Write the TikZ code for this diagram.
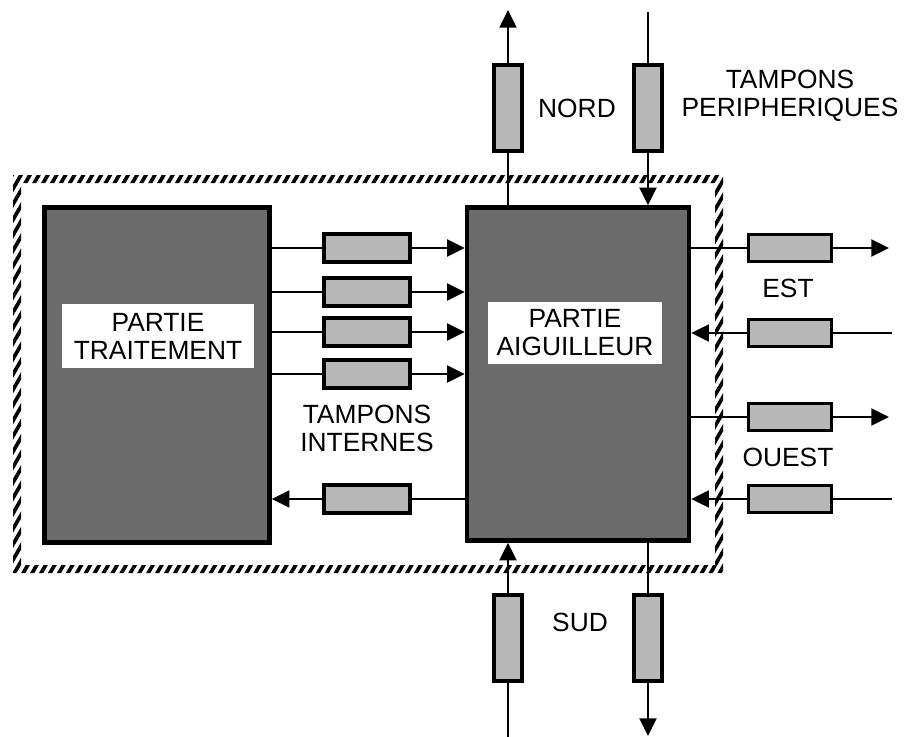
\documentclass[tikz,border=0pt]{standalone}
\usepackage{fontspec}
\setmainfont{Liberation Sans}
\usetikzlibrary{arrows.meta,patterns.meta}

\begin{document}
\begin{tikzpicture}[x=0.02cm, y=-0.02cm, >={Triangle[length=10pt,width=9.5pt]},
		font=\fontsize{15}{16}\selectfont,
		bloc/.style={draw, line width=2.6pt, fill=black!58, inner sep=0pt, minimum width=4.5cm, minimum height=6.7cm},
		etiq/.style={fill=white, align=center, inner sep=0pt},
		tamponh/.style={draw, line width=1.8pt, fill=black!28, inner sep=0pt, minimum width=1.72cm, minimum height=0.56cm},
		tamponv/.style={tamponh, minimum width=0.56cm, minimum height=1.72cm},
		fil/.style={line width=1.7pt}]
		\useasboundingbox (0,0) rectangle (907,737);
		% hatched frame
		\fill[pattern={Lines[angle=60,distance=4.4pt,line width=2.1pt]}, even odd rule]
			(13,175) rectangle (723,573) (21,183) rectangle (715,565);
		% the two parts
		\node[bloc] (TR) at (157,375) {};
		\node[bloc, minimum width=4.44cm, minimum height=6.66cm] (AIG) at (578,374) {};
		\node[etiq, minimum width=3.84cm, minimum height=1.3cm] (lTR) at (158,336) {PARTIE\\TRAITEMENT};
		\node[etiq, minimum width=3.5cm, minimum height=1.26cm] (lAIG) at (575,333) {PARTIE\\AIGUILLEUR};
		% internal buffers
		\node[tamponh] (ti1) at (367,248) {};
		\node[tamponh] (ti2) at (367,292) {};
		\node[tamponh] (ti3) at (367,332) {};
		\node[tamponh] (ti4) at (367,374) {};
		\node[tamponh] (ti5) at (367,499) {};
		\draw[fil] (TR.east |- ti1) -- (ti1);
		\draw[fil,->] (ti1) -- (AIG.west |- ti1);
		\draw[fil] (TR.east |- ti2) -- (ti2);
		\draw[fil,->] (ti2) -- (AIG.west |- ti2);
		\draw[fil] (TR.east |- ti3) -- (ti3);
		\draw[fil,->] (ti3) -- (AIG.west |- ti3);
		\draw[fil] (TR.east |- ti4) -- (ti4);
		\draw[fil,->] (ti4) -- (AIG.west |- ti4);
		\draw[fil] (AIG.west |- ti5) -- (ti5);
		\draw[fil,->] (ti5) -- (TR.east |- ti5);
		\node[align=center] (tint) at (367,428) {TAMPONS\\INTERNES};
		% nord
		\coordinate (n1) at (508,10);
		\coordinate (n2) at (648,12);
		\node[tamponv] (tn1) at (508,108) {};
		\node[tamponv] (tn2) at (648,108) {};
		\draw[fil] (AIG.north -| tn1) -- (tn1);
		\draw[fil,->] (tn1) -- (n1);
		\draw[fil] (n2) -- (tn2);
		\draw[fil,->] (tn2) -- (AIG.north -| tn2);
		\node (nord) at (577,108) {NORD};
		\node[align=center] (tper) at (790,96) {TAMPONS\\PERIPHERIQUES};
		% est / ouest
		\coordinate (e1) at (889,248);
		\coordinate (e2) at (892,333);
		\coordinate (o1) at (889,417);
		\coordinate (o2) at (892,499);
		\node[tamponh, minimum width=1.66cm, minimum height=0.54cm] (te1) at (790,248) {};
		\node[tamponh, minimum width=1.66cm, minimum height=0.54cm] (te2) at (790,333) {};
		\node[tamponh, minimum width=1.66cm, minimum height=0.54cm] (to1) at (790,417) {};
		\node[tamponh, minimum width=1.66cm, minimum height=0.54cm] (to2) at (790,499) {};
		\draw[fil] (AIG.east |- te1) -- (te1);
		\draw[fil,->] (te1) -- (e1);
		\draw[fil] (e2) -- (te2);
		\draw[fil,->] (te2) -- (AIG.east |- te2);
		\draw[fil] (AIG.east |- to1) -- (to1);
		\draw[fil,->] (to1) -- (o1);
		\draw[fil] (o2) -- (to2);
		\draw[fil,->] (to2) -- (AIG.east |- to2);
		\node (est) at (788,288) {EST};
		\node (ouest) at (788,457) {OUEST};
		% sud
		\coordinate (s1) at (508,737);
		\coordinate (s2) at (648,736);
		\node[tamponv] (ts1) at (508,638) {};
		\node[tamponv] (ts2) at (648,638) {};
		\draw[fil] (s1) -- (ts1);
		\draw[fil,->] (ts1) -- (AIG.south -| ts1);
		\draw[fil] (AIG.south -| ts2) -- (ts2);
		\draw[fil,->] (ts2) -- (s2);
		\node (sud) at (580,622) {SUD};
	\end{tikzpicture}
\end{document}
